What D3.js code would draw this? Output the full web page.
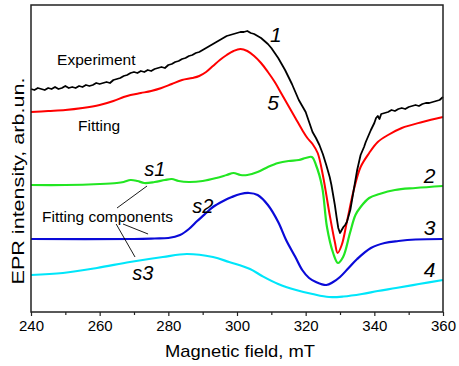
<!DOCTYPE html>
<html>
<head>
<meta charset="utf-8">
<script src="https://cdn.jsdelivr.net/npm/d3@7"></script>
<style>
    body { margin: 0; background: #fff; }
    svg text { font-family: "Liberation Sans", Arial, sans-serif; }
</style>
</head>
<body>
<div id="chart"></div>
<script>
// Dữ liệu (trường từ, mT / cường độ, đơn vị tùy ý)
let expField = [240,241,242,243,244,245,246,247,248,249,250,251,252,253,254,255,256,257,258,259,
    260,261,262,263,264,265,266,267,268,269,270,271,272,273,274,275,276,277,278,279,
    280,281,282,283,284,285,286,287,288,289,290,291,292,293,294,295,296,297,298,299,
    300,301,302,303,304,305,306,307,308,309,310,311,312,313,314,315,316,317,318,319,
    320,321,322,323,324,325,326,327,327.5,328,328.5,329,329.5,330,330.5,331,331.5,332,332.5,333,
    333.5,334,335,336,337,337.5,338,339,340,340.5,341,341.5,342,343,344,345,346,347,348,349,
    350,351,352,353,354,355,356,357,358,359,360];
let expValue = [223,222,224,223,222,224,223,225,223,224,226,224,225,224,226,225,227,226,227,229,
    228,229,230,229,232,233,234,236,237,239,240,239,241,240,242,241,243,244,245,244,
    247,248,250,251,253,254,256,257,259,260,262,264,266,268,270,272,274,276,277,278,
    279,280,280,281,279,278,276,274,271,268,264,259,254,248,242,235,228,220,212,206,
    200,190,180,174,167,158,147,135,127,117,107,95,84,79,82,85,87,90,96,102,
    112,122,142,157,165,170,174,182,189,194,196,193,198,199,200,202,201,203,204,203,
    205,206,207,206,208,209,209,210,211,212,215];

let fitField = [240,245,250,255,260,264,267,269,272,275,278,281,284,287,289,291,293,295,297,299,
    301,303,305,307,309,311,313,315,317,319,320.5,322,323.5,325,327,328.5,329.3,330.5,332,334,
    336,338.5,341,344,348,354,360];
let fitValue = [200,201,202,204,207,211,215,217,219,221,224,228,232,234,236,240,246,252,257,261,
    263,261,256,249,240,230,218,206,194,182,174,168,159,137,97,70,59,67,90,122,
    145,159,170,177,184,190,195];

let s1Field = [240,250,260,265,267,269,271,273,276,279,281,283,286,290,294,297,299,301,303,306,
    309,312,315,318,320,321.8,323,324.8,326.2,328,329.4,330.9,332.9,334.5,336,338.5,341.5,346,352,360];
let s1Value = [127,127,128,129,130,132,131,129,130,132,133,131,130,131,134,137,139,137,137,140,
    145,149,151,152,154,155,147,125,85,59,49,55,79,97,105,114,118,122,124,126];

let s2Field = [240,270,276,280,283.4,286,288.4,291,293,296,298.5,301,303.5,306,309,312,314.3,317,319,321,
    323,326,328,330,332.5,335,339,343,347,352,360];
let s2Value = [73,73,73.5,74,77,83,91,99,105,111,115,118,119,117,107,90,72,55,42,34,
    30,27,30,35,44,53,64,69,71,72.5,73];

let s3Field = [240,249.3,259.2,268.8,278.4,285.4,293,297.7,303.8,307.3,312,317.2,322,326.8,331,336.4,341,346.3,353,360];
let s3Value = [37,39,44,50,55,58,55,50,43,36,28,22,18,15,15.5,18,21,24,28,32];

// Nhãn trục
let xTicks = [240, 260, 280, 300, 320, 340, 360];
let xMinorTicks = [250, 270, 290, 310, 330, 350];

// Chú thích (tọa độ theo đơn vị dữ liệu)
let notes = [
    { text: "Experiment", f: 247.6, v: 247, size: 15.5, italic: false },
    { text: "Fitting", f: 253.7, v: 181, size: 15.5, italic: false },
    { text: "Fitting components", f: 243.2, v: 90, size: 15.5, italic: false },
    { text: "1", f: 309.6, v: 270, size: 21, italic: true },
    { text: "5", f: 308.8, v: 202, size: 21, italic: true },
    { text: "2", f: 354.4, v: 129, size: 21, italic: true },
    { text: "3", f: 354.4, v: 77, size: 21, italic: true },
    { text: "4", f: 354.4, v: 35, size: 21, italic: true },
    { text: "s1", f: 273.0, v: 136, size: 20, italic: true },
    { text: "s2", f: 287.0, v: 99, size: 20, italic: true },
    { text: "s3", f: 269.5, v: 32, size: 20, italic: true }
];
// Đường chỉ dẫn từ "Fitting components"
let pointers = [
    { f1: 265.05, v1: 104, f2: 273.8, v2: 126 },
    { f1: 266.8, v1: 88, f2: 274.1, v2: 78 },
    { f1: 264.8, v1: 88, f2: 270.3, v2: 55 }
];

let fullWidth = 459, fullHeight = 366;
let margin = { top: 5, right: 16, bottom: 54, left: 31 };
let width = fullWidth - margin.left - margin.right;
let height = fullHeight - margin.top - margin.bottom;

let svg = d3.select("#chart")
    .append("svg")
    .attr("width", fullWidth)
    .attr("height", fullHeight);

let chartGroup = svg.append("g")
    .attr("transform", `translate(${margin.left},${margin.top})`);

let x = d3.scaleLinear().domain([240, 360]).range([0, width]);
let y = d3.scaleLinear().domain([0, 307]).range([height, 0]);

// Trục X: vạch chính và vạch phụ
let xAxis = chartGroup.append("g")
    .attr("transform", `translate(0,${height})`)
    .call(d3.axisBottom(x).tickValues(xTicks).tickSize(4).tickPadding(4).tickFormat(d3.format("d")));
xAxis.selectAll("text")
    .attr("font-size", "15px")
    .attr("fill", "#000");
xAxis.selectAll("line").attr("stroke", "#222").attr("stroke-width", 1.2);

let xMinor = chartGroup.append("g")
    .attr("transform", `translate(0,${height})`)
    .call(d3.axisBottom(x).tickValues(xMinorTicks).tickSize(3).tickFormat(""));
xMinor.selectAll("line").attr("stroke", "#222").attr("stroke-width", 1.2);
chartGroup.selectAll(".domain").remove();

// Vẽ các đường
let smooth = d3.line().x(d => x(d[0])).y(d => y(d[1])).curve(d3.curveCatmullRom.alpha(0.5));
let raw = d3.line().x(d => x(d[0])).y(d => y(d[1]));

let series = [
    { f: s3Field, v: s3Value, color: "#00e6fa", w: 2.2, gen: smooth },
    { f: s2Field, v: s2Value, color: "#0a0ad8", w: 2.2, gen: smooth },
    { f: s1Field, v: s1Value, color: "#22e622", w: 2.2, gen: smooth },
    { f: fitField, v: fitValue, color: "#ff0000", w: 2.0, gen: smooth },
    { f: expField, v: expValue, color: "#000000", w: 1.8, gen: raw }
];

series.forEach(s => {
    chartGroup.append("path")
        .datum(s.f.map((f, i) => [f, s.v[i]]))
        .attr("fill", "none")
        .attr("stroke", s.color)
        .attr("stroke-width", s.w)
        .attr("stroke-linejoin", "round")
        .attr("d", s.gen);
});

// Khung biểu đồ
chartGroup.append("rect")
    .attr("x", 0).attr("y", 0)
    .attr("width", width).attr("height", height)
    .attr("fill", "none")
    .attr("stroke", "#222")
    .attr("stroke-width", 1.5);

// Chú thích
chartGroup.selectAll(".pointer")
    .data(pointers)
    .enter()
    .append("line")
    .attr("x1", d => x(d.f1)).attr("y1", d => y(d.v1))
    .attr("x2", d => x(d.f2)).attr("y2", d => y(d.v2))
    .attr("stroke", "#000")
    .attr("stroke-width", 0.9);

chartGroup.selectAll(".note")
    .data(notes)
    .enter()
    .append("text")
    .attr("x", d => x(d.f))
    .attr("y", d => y(d.v))
    .style("font-size", d => d.size + "px")
    .style("font-style", d => d.italic ? "italic" : "normal")
    .attr("fill", "#000")
    .text(d => d.text);

// Tên trục
svg.append("text")
    .attr("x", 240)
    .attr("y", 357)
    .attr("text-anchor", "middle")
    .attr("textLength", 150)
    .attr("lengthAdjust", "spacingAndGlyphs")
    .style("font-size", "17px")
    .text("Magnetic field, mT");

svg.append("text")
    .attr("transform", "translate(24,181) rotate(-90)")
    .attr("text-anchor", "middle")
    .attr("textLength", 207)
    .attr("lengthAdjust", "spacingAndGlyphs")
    .style("font-size", "16px")
    .text("EPR intensity, arb.un.");
</script>
</body>
</html>
